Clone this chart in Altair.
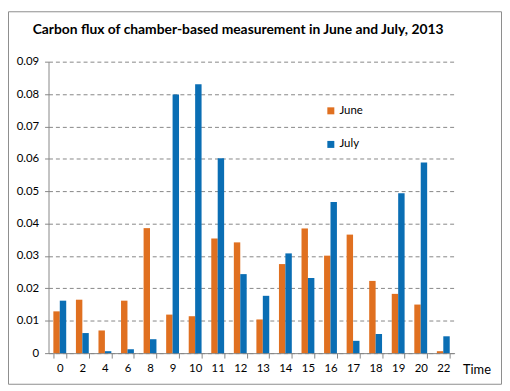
import altair as alt
import pandas as pd

times = ["0", "2", "4", "6", "8", "9", "10", "11", "12", "13", "14", "15", "16", "17", "18", "19", "20", "22"]
june = [0.0129, 0.0165, 0.0070, 0.0162, 0.0386, 0.0119, 0.0114, 0.0354, 0.0342, 0.0104,
        0.0275, 0.0385, 0.0301, 0.0366, 0.0223, 0.0183, 0.0150, 0.0006]
july = [0.0162, 0.0062, 0.0006, 0.0012, 0.0043, 0.0799, 0.0830, 0.0602, 0.0244, 0.0177,
        0.0308, 0.0232, 0.0467, 0.0038, 0.0059, 0.0494, 0.0589, 0.0052]
series = ["June", "July"]
colors = ["#E07020", "#0A6EB4"]
title_text = "Carbon flux of chamber-based measurement in June and July, 2013"

rows = []
for i, t in enumerate(times):
    rows.append({"Time": t, "Month": "June", "Flux": june[i]})
    rows.append({"Time": t, "Month": "July", "Flux": july[i]})
df = pd.DataFrame(rows)

FONT = "Lato"

bars = alt.Chart(df).mark_bar().encode(
    x=alt.X("Time:N", sort=times,
            scale=alt.Scale(paddingInner=0.43, paddingOuter=0.215),
            axis=alt.Axis(title="Time", labelAngle=0, tickBand="extent", tickSize=5,
                          labelPadding=5, labelFontSize=11.5, labelColor="#000",
                          domainColor="#868686", tickColor="#868686",
                          titleX=419, titleY=17, titleAlign="left", titleBaseline="middle",
                          titleFontSize=13, titleFontWeight="normal", titleColor="#000",
                          grid=False)),
    xOffset=alt.XOffset("Month:N", sort=series, scale=alt.Scale(paddingInner=0, paddingOuter=0)),
    y=alt.Y("Flux:Q", scale=alt.Scale(domain=[0, 0.09], nice=False),
            axis=alt.Axis(title=None, values=[0, 0.01, 0.02, 0.03, 0.04, 0.05, 0.06, 0.07, 0.08, 0.09],
                          labelExpr="datum.value == 0 ? '0' : format(datum.value, '.2f')",
                          tickSize=4, labelPadding=6, labelFontSize=11.5, labelColor="#000",
                          domainColor="#868686", tickColor="#868686",
                          grid=True, gridDash=[4, 3], gridColor="#868686", gridWidth=1)),
    color=alt.Color("Month:N", sort=series,
                    scale=alt.Scale(domain=series, range=colors),
                    legend=alt.Legend(title=None, orient="none", legendX=280, legendY=44,
                                      symbolType="square", symbolSize=50, symbolStrokeWidth=0,
                                      rowPadding=21, labelFontSize=11.5, labelColor="#000",
                                      labelFont=FONT, labelOffset=3)),
)

one = pd.DataFrame({"a": [0]})

border = alt.Chart(one).mark_rect(
    fill="transparent", stroke="#8c8c8c", strokeWidth=1, clip=False
).encode(x=alt.value(-40.5), x2=alt.value(458.5), y=alt.value(-50.5), y2=alt.value(326.5))

title = alt.Chart(one).mark_text(
    text=title_text, font=FONT, fontSize=14, fontWeight="bold", color="#000",
    align="left", baseline="alphabetic", clip=False
).encode(x=alt.value(-16), y=alt.value(-28))

chart = alt.layer(bars, border, title).properties(
    width=411, height=295,
    autosize=alt.AutoSizeParams(type="none"),
    padding={"left": 41, "top": 52, "right": 48, "bottom": 36},
).configure_view(stroke=None).configure_axis(labelFont=FONT, titleFont=FONT)

chart.save("out.html", embed_options={"renderer": "svg", "actions": False})
